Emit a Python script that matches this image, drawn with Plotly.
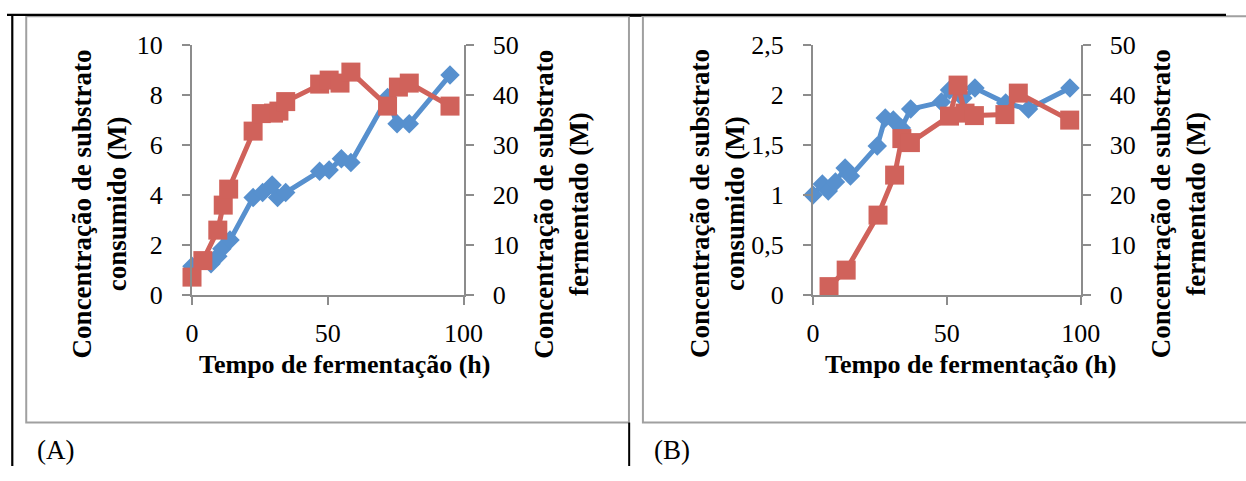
import plotly.graph_objects as go

# ---- Panel A data (time in h) ----
a_consumido_t = [0, 7, 9.5, 11, 14, 22.5, 26, 29.5, 31.5, 34.5, 47, 50.5, 55, 58.5, 72, 75.5, 80, 95]
a_consumido = [1.15, 1.25, 1.55, 1.85, 2.2, 3.9, 4.1, 4.4, 3.9, 4.1, 4.95, 5.0, 5.45, 5.3, 7.9, 6.85, 6.85, 8.8]
a_fermentado_t = [0, 4, 9.5, 11.5, 13.5, 22.5, 25.5, 30, 32, 34.5, 47, 50.5, 54.5, 58.5, 72, 76, 80, 95]
a_fermentado = [3.6, 6.9, 13.0, 18.0, 21.2, 32.8, 36.3, 36.4, 36.8, 38.7, 42.2, 43.0, 42.4, 44.6, 37.8, 41.6, 42.4, 37.8]

# ---- Panel B data ----
b_consumido_t = [0, 3.5, 5.7, 8.4, 12, 14, 24, 27, 30, 33, 36.5, 48, 51, 56, 60.5, 72, 80.5, 96]
b_consumido = [1.0, 1.11, 1.04, 1.13, 1.27, 1.19, 1.49, 1.77, 1.75, 1.67, 1.86, 1.93, 2.05, 1.97, 2.07, 1.92, 1.86, 2.07]
b_fermentado_t = [6, 12.4, 24.3, 30.5, 33.2, 36.4, 51, 54.2, 56.8, 60.3, 71.7, 76.7, 95.9]
b_fermentado = [1.7, 5.0, 16.0, 24.0, 31.3, 30.5, 35.8, 42.0, 36.4, 35.9, 36.1, 40.4, 35.0]

# ---- Axis ticks ----
x_ticks = [0, 50, 100]
a_left_ticks = [0, 2, 4, 6, 8, 10]
b_left_ticks = [0, 0.5, 1, 1.5, 2, 2.5]
b_left_labels = ["0", "0,5", "1", "1,5", "2", "2,5"]
right_ticks = [0, 10, 20, 30, 40, 50]

x_title = "Tempo de fermentação (h)"
left_title = "Concentração de substrato<br>consumido (M)"
right_title = "Concentração de substrato<br>fermentado (M)"
panel_labels = ["(A)", "(B)"]

W, H = 1246, 481
BLUE = "#5790CE"
RED = "#D0625B"
GREY = "#8C8C8C"
SERIF = "Liberation Serif, Times New Roman, DejaVu Serif, serif"

# on-screen pixel positions are converted to paper fractions
OX, KX = 5.0, 0.982
OY, KY = 12.0, 0.946


def px(x):
    return min(max((x - OX) / KX, 0), W) / W


def py(y):
    return 1 - min(max((y - OY) / KY, 0), H) / H


fig = go.Figure()

line_w = 5
diamond = dict(symbol="diamond", size=15, color=BLUE)
square = dict(symbol="square", size=19, color=RED)

fig.add_trace(go.Scatter(x=a_consumido_t, y=a_consumido, xaxis="x", yaxis="y",
                         mode="lines+markers", cliponaxis=False,
                         line=dict(color=BLUE, width=line_w), marker=diamond))
fig.add_trace(go.Scatter(x=a_fermentado_t, y=a_fermentado, xaxis="x", yaxis="y2",
                         mode="lines+markers", cliponaxis=False,
                         line=dict(color=RED, width=line_w), marker=square))
fig.add_trace(go.Scatter(x=b_consumido_t, y=b_consumido, xaxis="x2", yaxis="y3",
                         mode="lines+markers", cliponaxis=False,
                         line=dict(color=BLUE, width=line_w), marker=diamond))
fig.add_trace(go.Scatter(x=b_fermentado_t, y=b_fermentado, xaxis="x2", yaxis="y4",
                         mode="lines+markers", cliponaxis=False,
                         line=dict(color=RED, width=line_w), marker=square))

tick_font = dict(family=SERIF, size=26, color="black")
common = dict(showline=True, linecolor=GREY, linewidth=2, ticks="outside", ticklen=8,
              tickwidth=2, tickcolor=GREY, showgrid=False, zeroline=False,
              tickfont=tick_font, fixedrange=True)

y_dom = [py(295), py(43.3)]
xa_dom = [px(190.7), px(463.3)]
xb_dom = [px(814), px(1082.7)]

fig.update_layout(
    width=W, height=H, margin=dict(l=0, r=0, t=0, b=0),
    paper_bgcolor="white", plot_bgcolor="rgba(0,0,0,0)", showlegend=False,
    xaxis=dict(domain=xa_dom, anchor="y", range=[0, 100], tickvals=x_ticks,
               ticklabelstandoff=6, **common),
    yaxis=dict(domain=y_dom, anchor="x", range=[0, 10], tickvals=a_left_ticks,
               ticklabelstandoff=14, **common),
    yaxis2=dict(overlaying="y", side="right", anchor="x", range=[0, 50],
                tickvals=right_ticks, ticklabelstandoff=14, **common),
    xaxis2=dict(domain=xb_dom, anchor="y3", range=[0, 100], tickvals=x_ticks,
                ticklabelstandoff=6, **common),
    yaxis3=dict(domain=y_dom, anchor="x2", range=[0, 2.5], tickvals=b_left_ticks,
                ticktext=b_left_labels, ticklabelstandoff=14, **common),
    yaxis4=dict(overlaying="y3", side="right", anchor="x2", range=[0, 50],
                tickvals=right_ticks, ticklabelstandoff=14, **common),
)

# Page frame: black table rules and grey chart boxes
P = dict(xref="paper", yref="paper")
FRAME_GREY = "#A0A0A0"
shapes = [
    dict(type="rect", x0=px(24.3), x1=px(629.3), y0=1 - 2.5 / H, y1=py(423.3),
         line=dict(color=FRAME_GREY, width=2), fillcolor="white", layer="below", **P),
    dict(type="rect", x0=px(643.3), x1=1.02, y0=1 - 2.5 / H, y1=py(423.3),
         line=dict(color=FRAME_GREY, width=2), fillcolor="white", layer="below", **P),
    dict(type="line", x0=0, x1=1, y0=1 - 1 / H, y1=1 - 1 / H,
         line=dict(color="black", width=2.2), **P),
    dict(type="line", x0=px(10.3), x1=px(10.3), y0=1, y1=0,
         line=dict(color="black", width=2.2), **P),
    dict(type="line", x0=px(629.5), x1=px(629.5), y0=py(423.3), y1=0,
         line=dict(color="black", width=2), **P),
    dict(type="rect", x0=px(630), x1=px(642), y0=1, y1=1 - 3 / H,
         line=dict(width=0), fillcolor="black", **P),
]
fig.update_layout(shapes=shapes)

title_font = dict(family=SERIF, size=26, color="black")
ytitle_font = dict(family=SERIF, size=27, color="black")
ann = []
for cx, lx, rx, lab_x, lab in [(344, 98, 562, 54, panel_labels[0]),
                               (972, 718, 1181, 672.5, panel_labels[1])]:
    common_ann = dict(xref="paper", yref="paper", showarrow=False,
                      xanchor="center", yanchor="middle")
    ann.append(dict(text="<b>%s</b>" % x_title, x=px(cx), y=py(365),
                    font=title_font, **common_ann))
    ann.append(dict(text="<b>%s</b>" % left_title, x=px(lx), y=py(203),
                    font=ytitle_font, textangle=-90, **common_ann))
    ann.append(dict(text="<b>%s</b>" % right_title, x=px(rx), y=py(203),
                    font=ytitle_font, textangle=-90, **common_ann))
    ann.append(dict(text=lab, x=px(lab_x), y=py(451),
                    font=dict(family=SERIF, size=27, color="black"), **common_ann))
fig.update_layout(annotations=ann)

fig.write_html("out.html")
